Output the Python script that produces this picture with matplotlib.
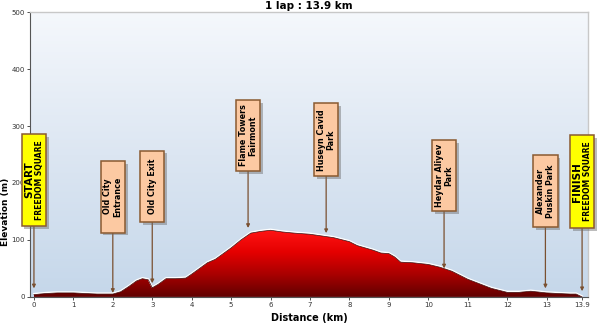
import numpy as np
import matplotlib
matplotlib.use("Agg")
import matplotlib.pyplot as plt
from matplotlib.patches import Rectangle, Polygon
from matplotlib.colors import LinearSegmentedColormap

# Elevation profile (km, m)
distance = [0.0, 0.3, 0.6, 1.0, 1.3, 1.6, 2.0, 2.2, 2.4, 2.6, 2.75, 2.9, 3.0, 3.15,
            3.35, 3.6, 3.85, 4.0, 4.2, 4.4, 4.6, 4.8, 5.0, 5.25, 5.5, 5.75, 6.0,
            6.3, 6.6, 7.0, 7.3, 7.6, 8.0, 8.2, 8.4, 8.6, 8.8, 9.0, 9.15, 9.3,
            9.6, 10.0, 10.3, 10.6, 11.0, 11.3, 11.6, 12.0, 12.3, 12.6, 13.0,
            13.3, 13.6, 13.75, 13.9]
elevation = [4, 6, 7, 7, 6, 5, 5, 9, 18, 28, 32, 30, 16, 22,
             32, 32, 33, 40, 50, 60, 66, 76, 86, 100, 112, 115, 117,
             114, 112, 110, 107, 104, 97, 90, 86, 82, 77, 76, 70, 61,
             60, 57, 52, 45, 31, 23, 15, 8, 8, 10, 7,
             6, 5, 5, 0]

# Landmarks: position (km), label, box bottom/top (m), arrow tip (m), start/finish flag
marker_km = [0.0, 2.0, 3.0, 5.43, 7.41, 10.4, 12.97, 13.9]
marker_text = ["START\nFREEDOM SQUARE", "Old City\nEntrance", "Old City Exit",
               "Flame Towers\nFairmont", "Huseyn Cavid\nPark", "Heydar Aliyev\nPark",
               "Alexander\nPuskin Park", "FINISH\nFREEDOM SQUARE"]
box_bottom = [125, 113, 132, 221, 212, 150, 123, 121]
box_top = [286, 239, 257, 346, 340, 275, 249, 284]
arrow_tip = [15, 7, 24, 121, 112, 50, 15, 10]
is_flag = [True, False, False, False, False, False, False, True]

x_ticks = list(range(14)) + [13.9]
x_ticklabels = [str(i) for i in range(14)] + ["13.9"]
y_ticks = [0, 100, 200, 300, 400, 500]

fig = plt.figure(figsize=(6.0, 3.27), dpi=100)
ax = fig.add_axes([0.05, 0.092, 0.93, 0.871])
xmin, xmax = -0.1, 14.05
ax.set_xlim(xmin, xmax)
ax.set_ylim(0, 500)

# Sky gradient
sky = LinearSegmentedColormap.from_list("sky", ["#c5d7ea", "#dce6f2", "#f5f8fc"])
grad = np.linspace(0, 1, 256).reshape(-1, 1)
ax.imshow(grad, aspect="auto", cmap=sky, origin="lower",
          extent=[xmin, xmax, 0, 500], zorder=0)

# Profile with red gradient fill
xs = np.array(distance)
ys = np.array(elevation)
red = LinearSegmentedColormap.from_list("red", ["#600000", "#a80000", "#e40000", "#ff1414"])
img = ax.imshow(grad, aspect="auto", cmap=red, origin="lower",
                extent=[xs.min(), xs.max(), 0, ys.max()], zorder=2)
poly = Polygon(np.column_stack([np.r_[xs, xs[-1], xs[0]], np.r_[ys, 0, 0]]),
               closed=True, facecolor="none", edgecolor="none")
ax.add_patch(poly)
img.set_clip_path(poly)
ax.plot(xs, ys + 1.5, color="white", lw=1.2, zorder=3)
ax.plot(xs, ys, color="#3a0000", lw=0.5, zorder=3)

# Landmark boxes and arrows
box_w = 0.62
for km, txt, b0, b1, tip, flag in zip(marker_km, marker_text, box_bottom,
                                      box_top, arrow_tip, is_flag):
    ax.annotate("", xy=(km, tip), xytext=(km, b0),
                arrowprops=dict(arrowstyle="-|>", color="#7a5030", lw=0.9,
                                mutation_scale=5, shrinkA=0, shrinkB=0),
                zorder=4)
    ax.add_patch(Rectangle((km - box_w / 2 + 0.07, b0 - 5), box_w, b1 - b0,
                           facecolor="#6b6b6b", alpha=0.45, edgecolor="none",
                           zorder=5, clip_on=False))
    ax.add_patch(Rectangle((km - box_w / 2, b0), box_w, b1 - b0,
                           facecolor="#ffff00" if flag else "#fcc9a2",
                           edgecolor="#8a5a30", lw=1.1, zorder=6, clip_on=False))
    if flag:
        head, sub = txt.split("\n")
        ax.text(km - 0.12, (b0 + b1) / 2, head, rotation=90, ha="center",
                va="center", fontsize=7.5, fontweight="bold", zorder=7)
        ax.text(km + 0.14, (b0 + b1) / 2, sub, rotation=90, ha="center",
                va="center", fontsize=5.5, fontweight="bold", zorder=7)
    else:
        ax.text(km, (b0 + b1) / 2, txt, rotation=90, ha="center", va="center",
                fontsize=5.8, fontweight="bold", linespacing=1.1, zorder=7)

ax.set_xticks(x_ticks)
ax.set_xticklabels(x_ticklabels, fontsize=5)
ax.set_yticks(y_ticks)
ax.set_yticklabels([str(v) for v in y_ticks], fontsize=5)
ax.tick_params(length=2, width=0.6, pad=1.5, colors="#333333")
ax.set_xlabel("Distance (km)", fontsize=7, fontweight="bold", labelpad=4)
ax.set_ylabel("Elevation (m)", fontsize=6.5, fontweight="bold")
ax.yaxis.set_label_coords(-0.035, 0.30)
ax.set_title("1 lap : 13.9 km", fontsize=7.5, fontweight="bold", pad=2)

for side in ["top", "right"]:
    ax.spines[side].set_color("#c8c8c8")
    ax.spines[side].set_linewidth(1.0)
ax.spines["left"].set_color("#555555")
ax.spines["left"].set_linewidth(0.8)
ax.spines["bottom"].set_color("#555555")
ax.spines["bottom"].set_linewidth(0.8)

fig.savefig("out.png", dpi=100)
